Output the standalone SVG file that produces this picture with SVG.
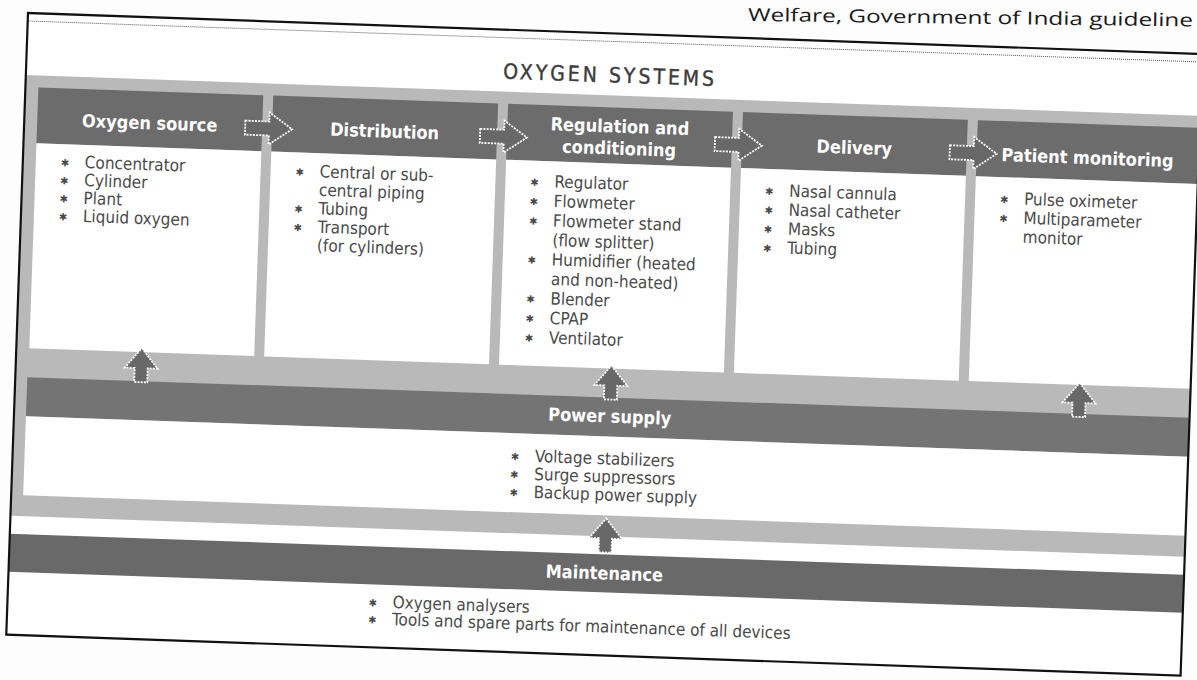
<svg xmlns="http://www.w3.org/2000/svg" width="1197" height="680" viewBox="0 0 1197 680">
<defs>
<style>
.hd{fill:#6c6c6c}
.bx{fill:#ffffff}
.ht{font-family:"DejaVu Sans Condensed","DejaVu Sans","Liberation Sans Narrow",sans-serif;font-stretch:condensed;font-weight:bold;font-size:18px;fill:#ffffff;text-anchor:middle}
.t{font-family:"DejaVu Sans Condensed","DejaVu Sans","Liberation Sans Narrow",sans-serif;font-stretch:condensed;font-size:17px;fill:#4a4a4a}
.b{font-family:"DejaVu Sans",sans-serif;font-size:10px;fill:#4a4a4a}
.arr{fill:#686868;stroke:#ffffff;stroke-width:1.8;stroke-dasharray:2 1.2}
</style>
<path id="ah" d="M-24,-7 H0 V-16 L23,0 L0,16 V7 H-24 Z"/>
<path id="av" d="M0,-17 L16.5,3 H6.5 V17 H-6.5 V3 H-16.5 Z"/>
</defs>
<rect x="0" y="0" width="1197" height="680" fill="#fdfdfd"/>
<text x="748" y="21" transform="rotate(0.7 748 21)" font-family="Open Sans, Liberation Sans, sans-serif" font-size="18" fill="#1a1a1a" textLength="445" lengthAdjust="spacingAndGlyphs">Welfare, Government of India guideline</text>
<g transform="translate(28,13) rotate(2)">
  <g id="background">
    <rect x="0" y="0" width="1175" height="622" fill="#ffffff"/>
    <line x1="0" y1="8" x2="1175" y2="8" stroke="#555" stroke-width="1" stroke-dasharray="1 1"/>
    <rect x="0" y="62" width="1175" height="441" fill="#b9b9b9"/>
  </g>
  <g id="title">
    <text x="584" y="49" font-family="DejaVu Sans Condensed, DejaVu Sans, sans-serif" font-stretch="condensed" font-size="21" letter-spacing="3" fill="#3c3c3c" stroke="#3c3c3c" stroke-width="0.4" text-anchor="middle">OXYGEN SYSTEMS</text>
  </g>
  <g id="oxygen-source">
    <rect class="hd" x="13" y="74" width="225" height="56"/>
    <rect class="bx" x="13" y="130" width="225" height="205"/>
    <text class="ht" x="125.5" y="112">Oxygen source</text>
    <text class="b" x="38" y="152">✱</text><text class="t" x="62" y="153">Concentrator</text>
    <text class="b" x="38" y="170">✱</text><text class="t" x="62" y="171">Cylinder</text>
    <text class="b" x="38" y="188">✱</text><text class="t" x="62" y="189">Plant</text>
    <text class="b" x="38" y="206">✱</text><text class="t" x="62" y="207">Liquid oxygen</text>
  </g>
  <g id="distribution">
    <rect class="hd" x="248" y="74" width="225" height="56"/>
    <rect class="bx" x="248" y="130" width="225" height="205"/>
    <text class="ht" x="360.5" y="112">Distribution</text>
    <text class="b" x="273" y="153">✱</text><text class="t" x="297" y="154">Central or sub-</text>
    <text class="t" x="297" y="172.5">central piping</text>
    <text class="b" x="273" y="190">✱</text><text class="t" x="297" y="191">Tubing</text>
    <text class="b" x="273" y="208.5">✱</text><text class="t" x="297" y="209.5">Transport</text>
    <text class="t" x="297" y="228">(for cylinders)</text>
  </g>
  <g id="regulation">
    <rect class="hd" x="483" y="74" width="225" height="56"/>
    <rect class="bx" x="483" y="130" width="225" height="205"/>
    <text class="ht" x="595.5" y="99">Regulation and</text>
    <text class="ht" x="595.5" y="121">conditioning</text>
    <text class="b" x="508" y="155">✱</text><text class="t" x="532" y="156">Regulator</text>
    <text class="b" x="508" y="174.5">✱</text><text class="t" x="532" y="175.5">Flowmeter</text>
    <text class="b" x="508" y="194">✱</text><text class="t" x="532" y="195">Flowmeter stand</text>
    <text class="t" x="532" y="214.5">(flow splitter)</text>
    <text class="b" x="508" y="233">✱</text><text class="t" x="532" y="234">Humidifier (heated</text>
    <text class="t" x="532" y="253.5">and non-heated)</text>
    <text class="b" x="508" y="272">✱</text><text class="t" x="532" y="273">Blender</text>
    <text class="b" x="508" y="291.5">✱</text><text class="t" x="532" y="292.5">CPAP</text>
    <text class="b" x="508" y="311">✱</text><text class="t" x="532" y="312">Ventilator</text>
  </g>
  <g id="delivery">
    <rect class="hd" x="718" y="74" width="225" height="56"/>
    <rect class="bx" x="718" y="130" width="225" height="205"/>
    <text class="ht" x="830.5" y="112">Delivery</text>
    <text class="b" x="743" y="156">✱</text><text class="t" x="767" y="157">Nasal cannula</text>
    <text class="b" x="743" y="175">✱</text><text class="t" x="767" y="176">Nasal catheter</text>
    <text class="b" x="743" y="194">✱</text><text class="t" x="767" y="195">Masks</text>
    <text class="b" x="743" y="213">✱</text><text class="t" x="767" y="214">Tubing</text>
  </g>
  <g id="patient-monitoring">
    <rect class="hd" x="953" y="74" width="222" height="56"/>
    <rect class="bx" x="953" y="130" width="222" height="205"/>
    <text class="ht" x="1064" y="114">Patient monitoring</text>
    <text class="b" x="978" y="156">✱</text><text class="t" x="1002" y="157">Pulse oximeter</text>
    <text class="b" x="978" y="175">✱</text><text class="t" x="1002" y="176">Multiparameter</text>
    <text class="t" x="1002" y="195">monitor</text>
  </g>
  <g id="power-supply">
    <rect x="12" y="364" width="1163" height="39" fill="#747474"/>
    <rect class="bx" x="12" y="403" width="1163" height="79"/>
    <text class="ht" x="595.5" y="389">Power supply</text>
    <text class="b" x="498" y="430">✱</text><text class="t" x="522" y="431">Voltage stabilizers</text>
    <text class="b" x="498" y="448">✱</text><text class="t" x="522" y="449">Surge suppressors</text>
    <text class="b" x="498" y="466">✱</text><text class="t" x="522" y="467">Backup power supply</text>
  </g>
  <g id="maintenance">
    <rect x="0" y="521" width="1175" height="38" fill="#696969"/>
    <text class="ht" x="595.5" y="546">Maintenance</text>
    <text class="b" x="361" y="581">✱</text><text class="t" x="385" y="582">Oxygen analysers</text>
    <text class="b" x="361" y="598">✱</text><text class="t" x="385" y="599">Tools and spare parts for maintenance of all devices</text>
  </g>
  <g id="connectors">
    <use href="#ah" class="arr" x="245" y="107"/>
    <use href="#ah" class="arr" x="480" y="107"/>
    <use href="#ah" class="arr" x="715" y="107"/>
    <use href="#ah" class="arr" x="950" y="107"/>
    <use href="#av" class="arr" x="125.5" y="348"/>
    <use href="#av" class="arr" x="595.5" y="349"/>
    <use href="#av" class="arr" x="1064" y="350"/>
    <use href="#av" class="arr" x="595.5" y="502"/>
  </g>
  <rect x="0" y="0" width="1175" height="622" fill="none" stroke="#111" stroke-width="2.2"/>
</g>
</svg>
